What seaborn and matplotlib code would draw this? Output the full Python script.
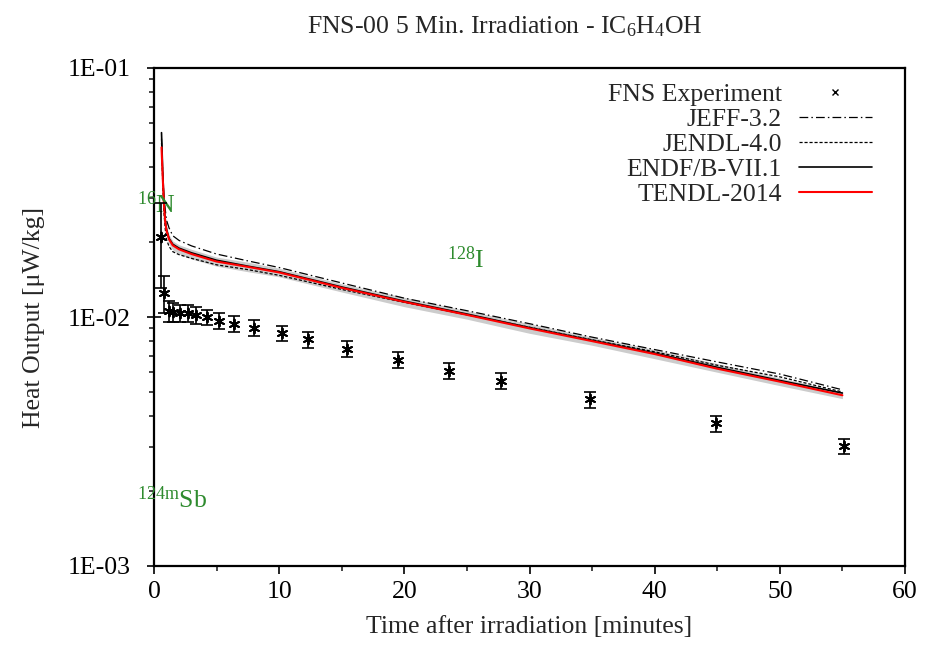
import numpy as np
import pandas as pd
import matplotlib
matplotlib.use("Agg")
import matplotlib.pyplot as plt
from matplotlib.lines import Line2D
import seaborn as sns

# experiment
t_exp = [0.56, 0.82, 1.2, 1.54, 2.08, 2.74, 3.34, 4.2, 5.2, 6.4, 8.0, 10.2,
         12.3, 15.4, 19.5, 23.6, 27.7, 34.8, 44.9, 55.1]
y_exp = [0.0209, 0.01245, 0.01057, 0.01044, 0.01034, 0.01034, 0.01018, 0.00997,
         0.00966, 0.00937, 0.00906, 0.00861, 0.00813, 0.00744, 0.00672, 0.00608,
         0.00555, 0.00467, 0.00374, 0.00303]
err_exp = [0.0078, 0.0021, 0.0010, 0.0009, 0.0008, 0.0008, 0.0008, 0.0007,
           0.0007, 0.0007, 0.00065, 0.0006, 0.0006, 0.00055, 0.0005, 0.00045,
           0.0004, 0.00035, 0.00028, 0.00022]

# calculations
t_calc = [0.6, 0.7, 0.8, 0.9, 1.0, 1.2, 1.5, 2.0, 3.0, 5.0, 7.5, 10, 15, 20,
          25, 30, 35, 40, 45, 50, 55]
jeff = [0.052, 0.037, 0.030, 0.027, 0.0245, 0.0228, 0.0212, 0.0203, 0.0193,
        0.0179, 0.0168, 0.0158, 0.0137, 0.0119, 0.0106, 0.0094, 0.0083, 0.0074,
        0.0066, 0.0059, 0.0051]
jendl = [0.050, 0.034, 0.026, 0.0225, 0.0205, 0.0192, 0.0183, 0.0178, 0.0172,
         0.0162, 0.0155, 0.0147, 0.0129, 0.01145, 0.0102, 0.0091, 0.0081,
         0.00725, 0.0064, 0.00575, 0.0050]
endf = [0.055, 0.038, 0.029, 0.0245, 0.0225, 0.0207, 0.0196, 0.0189, 0.0181,
        0.0169, 0.0160, 0.0152, 0.0132, 0.01158, 0.01028, 0.00907, 0.00806,
        0.00716, 0.00628, 0.00556, 0.00495]
tendl = [0.048, 0.036, 0.028, 0.024, 0.0222, 0.0205, 0.0194, 0.0187, 0.0179,
         0.0167, 0.0159, 0.0151, 0.0131, 0.0115, 0.0102, 0.0090, 0.0080, 0.0071,
         0.0062, 0.0055, 0.00485]
# grey uncertainty band around TENDL
band_lo = [0.046, 0.034, 0.0268, 0.0229, 0.0212, 0.0196, 0.0186, 0.0179, 0.0171,
           0.0160, 0.0152, 0.0145, 0.0126, 0.0110, 0.0098, 0.0086, 0.0077,
           0.0068, 0.0060, 0.0053, 0.00470]
band_hi = [0.050, 0.038, 0.0292, 0.0251, 0.0232, 0.0214, 0.0202, 0.0195, 0.0187,
           0.0174, 0.0166, 0.0157, 0.0136, 0.0120, 0.0106, 0.0094, 0.0083,
           0.0074, 0.0065, 0.0057, 0.00500]

FS = 18.5

sns.set_style("ticks")
plt.rcParams['font.family'] = ['Liberation Serif', 'DejaVu Serif']
plt.rcParams['mathtext.fontset'] = 'custom'
plt.rcParams['mathtext.rm'] = 'Liberation Serif'
plt.rcParams['mathtext.it'] = 'Liberation Serif:italic'

fig = plt.figure(figsize=(9.25, 6.47), dpi=100)
ax = fig.add_axes([154 / 925, 1 - 566 / 647, (905 - 154) / 925, (566 - 68) / 647])

ax.fill_between(t_calc, band_lo, band_hi, color='#cccccc', lw=0, zorder=1)

styles = [
    ('JEFF-3.2', jeff, 'black', (0, (7, 2.5, 1.2, 2.5)), 0.9),
    ('JENDL-4.0', jendl, 'black', (0, (2.5, 1.5)), 0.9),
    ('ENDF/B-VII.1', endf, 'black', '-', 1.2),
    ('TENDL-2014', tendl, 'red', '-', 1.5),
]
handles = []
for name, vals, col, ls, lw in styles:
    df = pd.DataFrame({'t': t_calc, 'y': vals})
    sns.lineplot(data=df, x='t', y='y', ax=ax, color=col, linewidth=lw,
                 linestyle=ls, sort=False, errorbar=None, zorder=3)
    handles.append(Line2D([], [], color=col, lw=lw, linestyle=ls, label=name))

ax.errorbar(t_exp, y_exp, yerr=err_exp, fmt='none', ecolor='black',
            elinewidth=1.2, capsize=4, capthick=1.2, zorder=4)
dfe = pd.DataFrame({'t': t_exp, 'y': y_exp})
sns.scatterplot(data=dfe, x='t', y='y', ax=ax, marker=(6, 2, 0), s=50,
                color='black', linewidth=1.4, zorder=5)
handles.insert(0, Line2D([], [], color='black', marker='x', markersize=4,
                         markeredgewidth=1, linestyle='none',
                         label='FNS Experiment'))

ax.set_yscale('log')
ax.set_xlim(0, 60)
ax.set_ylim(1e-3, 1e-1)
ax.set_xticks([0, 10, 20, 30, 40, 50, 60])
ax.set_xticks([5, 15, 25, 35, 45, 55], minor=True)
ax.set_yticks([1e-3, 1e-2, 1e-1])
ax.set_yticklabels(['1E-03', '1E-02', '1E-01'])
ax.tick_params(axis='both', which='major', direction='out', length=6,
               width=1.2, labelsize=FS, pad=5, colors='black')
ax.tick_params(axis='both', which='minor', direction='out', length=3.5, width=1.2)
ax.tick_params(axis='y', which='major', direction='inout', length=10, pad=12)
for s in ax.spines.values():
    s.set_linewidth(1.6)
    s.set_color('black')

ax.set_xlabel('Time after irradiation [minutes]', fontsize=FS, labelpad=9)
ax.set_ylabel('Heat Output [\u03bcW/kg]', fontsize=FS, labelpad=16)
fig.text(505 / 925, 1 - 33 / 647,
         'FNS-00 5 Min. Irradiation - IC$_6$H$_4$OH',
         ha='center', va='baseline', fontsize=FS)

green = '#2e8b2e'
ax.text(-1.36, 0.0262, '$^{16}$N', color=green, fontsize=FS, clip_on=False)
ax.text(23.4, 0.01574, '$^{128}$I', color=green, fontsize=FS)
ax.text(-1.36, 0.00171, r'$^{\mathrm{124m}}$Sb', color=green, fontsize=FS,
        clip_on=False)

leg = ax.legend(handles=handles, loc='upper right',
                bbox_to_anchor=((873 - 154) / 751 + 0.019, 1.0),
                frameon=False, markerfirst=False, fontsize=FS,
                handlelength=2.85, handletextpad=0.65, labelspacing=0.07,
                borderaxespad=0.2)
for col in leg._legend_box.get_children()[1].get_children():
    col.align = 'right'

fig.savefig('out.png', dpi=100)
